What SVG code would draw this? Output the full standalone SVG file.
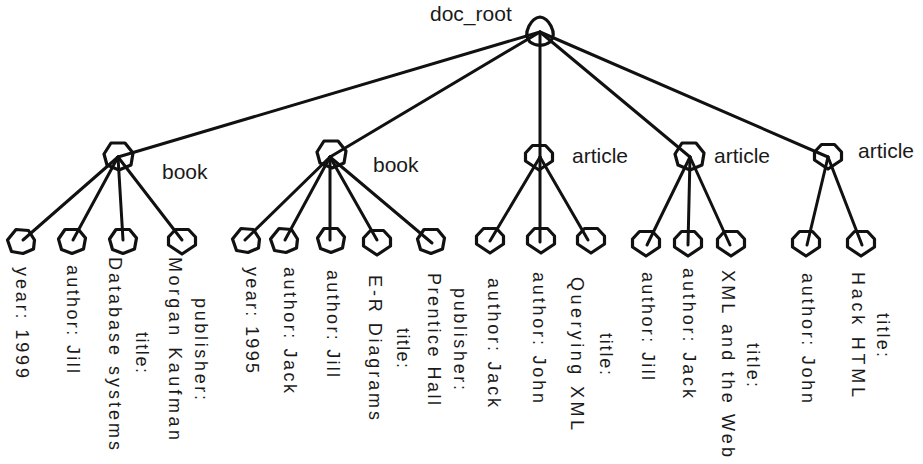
<svg xmlns="http://www.w3.org/2000/svg" xmlns:xlink="http://www.w3.org/1999/xlink" width="923" height="464" viewBox="0 0 923 464">
<style>
  .shape { fill: none; stroke: #111; stroke-width: 3.2; stroke-linejoin: round; }
  .edge { stroke: #111; stroke-width: 3; stroke-linecap: round; fill: none; }
  .lbl { font-family: "Liberation Sans", Arial, sans-serif; font-size: 21px; fill: #1a1a1a; }
  .leaf { font-family: "Liberation Sans", Arial, sans-serif; font-size: 18px; fill: #1a1a1a; }
</style>
<defs>
  <path id="hepA" class="shape" d="M-13.5,-2 L-7,-11.5 L6.5,-11.5 L13.5,-3 L11.5,8 L0,12.5 L-10.5,8.5 Z"/>
  <path id="hepB" class="shape" d="M-6.5,-11.5 L6.5,-11.5 L13.5,-4 L13.5,4 L0,13 L-13.5,4 L-13.5,-4 Z"/>
  <path id="hepC" class="shape" d="M-13.5,-1 L-5,-11.5 L7.5,-10.5 L13.5,-1 L12.5,8 L2,12.5 L-9.5,10.5 Z"/>
  <path id="big" class="shape" d="M-14,-2 L-7,-13 L7,-13 L15,-3 L13,9 L1,14 L-11,9 Z"/>
  <path id="onion" class="shape" d="M0,-15 Q7,-14 11,-6 Q16,4 10,10 Q4,14 0,13 Q-4,14 -10,10 Q-16,4 -11,-6 Q-7,-14 0,-15 Z"/>
</defs>

<g id="connectors">
  <line class="edge" x1="540" y1="32" x2="118" y2="157"/>
  <line class="edge" x1="540" y1="32" x2="330" y2="157"/>
  <line class="edge" x1="540" y1="32" x2="540" y2="157"/>
  <line class="edge" x1="540" y1="32" x2="690" y2="157"/>
  <line class="edge" x1="540" y1="32" x2="828" y2="157"/>

  <line class="edge" x1="118" y1="157" x2="23" y2="240"/>
  <line class="edge" x1="118" y1="157" x2="73" y2="240"/>
  <line class="edge" x1="118" y1="157" x2="123" y2="240"/>
  <line class="edge" x1="118" y1="157" x2="182" y2="240"/>

  <line class="edge" x1="330" y1="157" x2="245" y2="240"/>
  <line class="edge" x1="330" y1="157" x2="285" y2="240"/>
  <line class="edge" x1="330" y1="157" x2="330" y2="240"/>
  <line class="edge" x1="330" y1="157" x2="377" y2="240"/>
  <line class="edge" x1="330" y1="157" x2="432" y2="243"/>

  <line class="edge" x1="540" y1="157" x2="490" y2="241"/>
  <line class="edge" x1="540" y1="157" x2="540" y2="242"/>
  <line class="edge" x1="540" y1="157" x2="588" y2="240"/>

  <line class="edge" x1="690" y1="157" x2="647" y2="245"/>
  <line class="edge" x1="690" y1="157" x2="688" y2="245"/>
  <line class="edge" x1="690" y1="157" x2="730" y2="245"/>

  <line class="edge" x1="828" y1="157" x2="807" y2="245"/>
  <line class="edge" x1="828" y1="157" x2="862" y2="245"/>
</g>

<g id="doc_root">
  <use href="#onion" x="540" y="32"/>
  <text class="lbl" x="430" y="21">doc_root</text>
</g>

<g id="book1">
  <use href="#big" x="118" y="156"/>
  <text class="lbl" x="162" y="179">book</text>
</g>
<g id="book2">
  <use href="#big" x="331" y="154"/>
  <text class="lbl" x="373" y="172">book</text>
</g>
<g id="article1">
  <use href="#hepB" x="539" y="157"/>
  <text class="lbl" x="572" y="163">article</text>
</g>
<g id="article2">
  <use href="#big" x="689" y="156"/>
  <text class="lbl" x="714" y="163">article</text>
</g>
<g id="article3">
  <use href="#hepB" x="828" y="156"/>
  <text class="lbl" x="858" y="158">article</text>
</g>

<!-- book1 leaves -->
<g id="b1_year">
  <use href="#hepC" x="21" y="241"/>
  <text class="leaf" transform="translate(16,267) rotate(90)" textLength="111" lengthAdjust="spacing">year: 1999</text>
</g>
<g id="b1_author">
  <use href="#hepA" x="72" y="241"/>
  <text class="leaf" transform="translate(67,265) rotate(90)" textLength="108" lengthAdjust="spacing">author: Jill</text>
</g>
<g id="b1_title">
  <use href="#hepA" x="123" y="241"/>
  <text class="leaf" transform="translate(136,332) rotate(90)" textLength="41" lengthAdjust="spacing">title:</text>
  <text class="leaf" transform="translate(109,257) rotate(90)" textLength="193" lengthAdjust="spacing">Database systems</text>
</g>
<g id="b1_publisher">
  <use href="#hepB" x="182" y="241"/>
  <text class="leaf" transform="translate(195,298) rotate(90)" textLength="102" lengthAdjust="spacing">publisher:</text>
  <text class="leaf" transform="translate(169,257) rotate(90)" textLength="183" lengthAdjust="spacing">Morgan Kaufman</text>
</g>

<!-- book2 leaves -->
<g id="b2_year">
  <use href="#hepC" x="246" y="240"/>
  <text class="leaf" transform="translate(246,267) rotate(90)" textLength="106" lengthAdjust="spacing">year: 1995</text>
</g>
<g id="b2_author1">
  <use href="#hepC" x="284" y="240"/>
  <text class="leaf" transform="translate(284,267) rotate(90)" textLength="126" lengthAdjust="spacing">author: Jack</text>
</g>
<g id="b2_author2">
  <use href="#hepA" x="331" y="240"/>
  <text class="leaf" transform="translate(327,270) rotate(90)" textLength="107" lengthAdjust="spacing">author: Jill</text>
</g>
<g id="b2_title">
  <use href="#hepB" x="377" y="242"/>
  <text class="leaf" transform="translate(397,328) rotate(90)" textLength="40" lengthAdjust="spacing">title:</text>
  <text class="leaf" transform="translate(369,275) rotate(90)" textLength="145" lengthAdjust="spacing">E-R Diagrams</text>
</g>
<g id="b2_publisher">
  <use href="#hepA" x="431" y="241"/>
  <text class="leaf" transform="translate(454,288) rotate(90)" textLength="102" lengthAdjust="spacing">publisher:</text>
  <text class="leaf" transform="translate(428,273) rotate(90)" textLength="132" lengthAdjust="spacing">Prentice Hall</text>
</g>

<!-- article1 leaves -->
<g id="a1_author1">
  <use href="#hepB" x="490" y="240"/>
  <text class="leaf" transform="translate(488,278) rotate(90)" textLength="129" lengthAdjust="spacing">author: Jack</text>
</g>
<g id="a1_author2">
  <use href="#hepB" x="541" y="240"/>
  <text class="leaf" transform="translate(533,272) rotate(90)" textLength="131" lengthAdjust="spacing">author: John</text>
</g>
<g id="a1_title">
  <use href="#hepB" x="591" y="240"/>
  <text class="leaf" transform="translate(600,333) rotate(90)" textLength="42" lengthAdjust="spacing">title:</text>
  <text class="leaf" transform="translate(571,277) rotate(90)" textLength="153" lengthAdjust="spacing">Querying XML</text>
</g>

<!-- article2 leaves -->
<g id="a2_author1">
  <use href="#hepB" x="646" y="243"/>
  <text class="leaf" transform="translate(642,272) rotate(90)" textLength="108" lengthAdjust="spacing">author: Jill</text>
</g>
<g id="a2_author2">
  <use href="#hepB" x="688" y="243"/>
  <text class="leaf" transform="translate(683,268) rotate(90)" textLength="130" lengthAdjust="spacing">author: Jack</text>
</g>
<g id="a2_title">
  <use href="#hepB" x="731" y="243"/>
  <text class="leaf" transform="translate(747,343) rotate(90)" textLength="44" lengthAdjust="spacing">title:</text>
  <text class="leaf" transform="translate(722,270) rotate(90)" textLength="187" lengthAdjust="spacing">XML and the Web</text>
</g>

<!-- article3 leaves -->
<g id="a3_author">
  <use href="#hepB" x="806" y="243"/>
  <text class="leaf" transform="translate(802,273) rotate(90)" textLength="130" lengthAdjust="spacing">author: John</text>
</g>
<g id="a3_title">
  <use href="#hepB" x="861" y="243"/>
  <text class="leaf" transform="translate(877,313) rotate(90)" textLength="44" lengthAdjust="spacing">title:</text>
  <text class="leaf" transform="translate(852,272) rotate(90)" textLength="125" lengthAdjust="spacing">Hack HTML</text>
</g>
</svg>
